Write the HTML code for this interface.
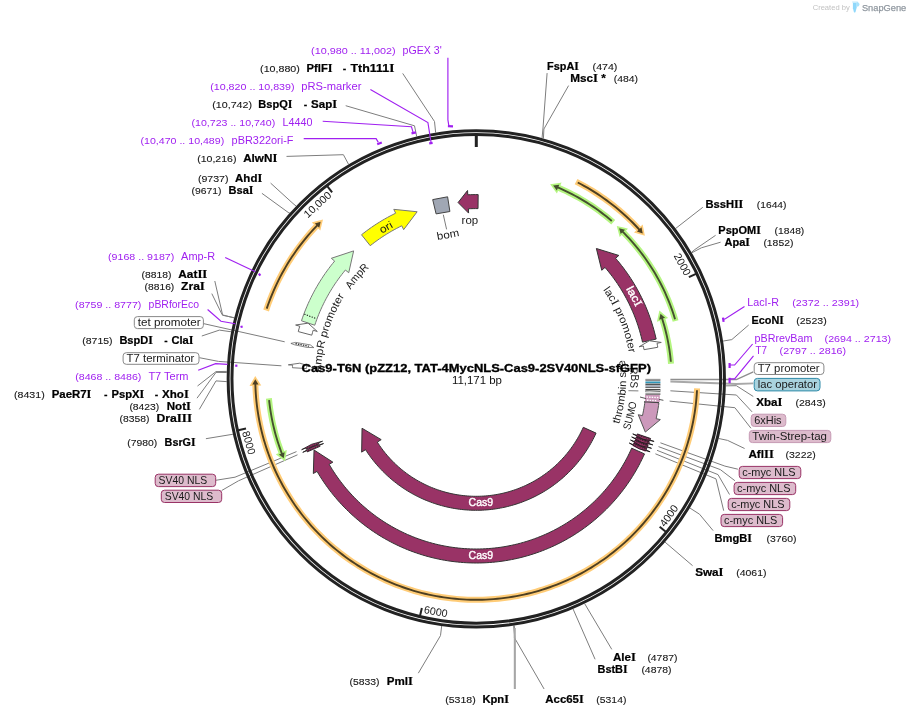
<!DOCTYPE html>
<html><head><meta charset="utf-8"><title>Cas9-T6N plasmid map</title>
<style>
html,body{margin:0;padding:0;background:#fff;}
svg{display:block;will-change:transform;}
text{font-family:"Liberation Sans",sans-serif;fill:#1a1a1a;}
.n{font-size:8.7px;fill:#161616;stroke:#161616;stroke-width:0.1px;}
.n2{font-size:10.4px;fill:#111;}
.pn{font-size:8.7px;fill:#a020f0;}
.p{font-size:10.8px;fill:#a020f0;}
.e{font-size:10.8px;font-weight:bold;fill:#000;stroke:#000;stroke-width:0.22px;}
.s{font-family:"Liberation Serif",serif;font-size:11.6px;}
.t{font-size:10.4px;font-weight:bold;fill:#000;stroke:#000;stroke-width:0.3px;}
.f{font-size:10.7px;fill:#1a1a1a;}
.fw{font-size:10.9px;fill:#fff;stroke:#fff;stroke-width:0.4px;}
</style></head><body>
<svg width="910" height="716" viewBox="0 0 910 716">
<polyline points="547.1,73.1 543,128 542.06,138.02" fill="none" stroke="#7d7d7d" stroke-width="1" />
<polyline points="568.6,85.6 543.9,129 543.41,138.39" fill="none" stroke="#7d7d7d" stroke-width="1" />
<polyline points="702.8,207.3 675.59,228.52" fill="none" stroke="#7d7d7d" stroke-width="1" />
<polyline points="715.6,235.3 694.9,249.5 691.48,252.32" fill="none" stroke="#7d7d7d" stroke-width="1" />
<polyline points="720.6,242.2 701.4,247.8 691.77,252.81" fill="none" stroke="#7d7d7d" stroke-width="1" />
<polyline points="748.7,325 731.8,339.6 723.03,341.08" fill="none" stroke="#7d7d7d" stroke-width="1" />
<polyline points="753.3,396.5 736.4,385.7 725.8,385.85" fill="none" stroke="#7d7d7d" stroke-width="1" />
<polyline points="744.6,448.5 727.6,440.4 718.66,438.48" fill="none" stroke="#7d7d7d" stroke-width="1" />
<polyline points="713.1,530.6 699.5,514.2 689.86,507.99" fill="none" stroke="#7d7d7d" stroke-width="1" />
<polyline points="692.6,565.7 665.04,542.13" fill="none" stroke="#7d7d7d" stroke-width="1" />
<polyline points="611.8,649.4 584.67,603.65" fill="none" stroke="#7d7d7d" stroke-width="1" />
<polyline points="595.1,659.3 573.02,608.9" fill="none" stroke="#7d7d7d" stroke-width="1" />
<polyline points="544.1,689 514.4,637.6 514.27,625.5" fill="none" stroke="#7d7d7d" stroke-width="1" />
<polyline points="514.8,689 514.8,637.6 513.71,625.58" fill="none" stroke="#7d7d7d" stroke-width="1" />
<polyline points="418.3,673.2 440.5,635.6 441.67,625.99" fill="none" stroke="#7d7d7d" stroke-width="1" />
<polyline points="205.9,438.7 232.94,434.24" fill="none" stroke="#7d7d7d" stroke-width="1" />
<polyline points="199.3,409.4 216,380.9 226.72,381.64" fill="none" stroke="#7d7d7d" stroke-width="1" />
<polyline points="197,398.2 216,372.4 226.78,372.52" fill="none" stroke="#7d7d7d" stroke-width="1" />
<polyline points="197.5,386 216,371.6 226.81,371.4" fill="none" stroke="#7d7d7d" stroke-width="1" />
<polyline points="201.8,336 219.4,330.1 231.16,331.81" fill="none" stroke="#7d7d7d" stroke-width="1" />
<polyline points="211.8,293.6 222.2,314.8 234.23,317.96" fill="none" stroke="#7d7d7d" stroke-width="1" />
<polyline points="214.8,281 222.7,315.3 234.3,317.69" fill="none" stroke="#7d7d7d" stroke-width="1" />
<polyline points="261.9,193.3 289,213 289.82,212.89" fill="none" stroke="#7d7d7d" stroke-width="1" />
<polyline points="270.6,183.1 293,203.5 296.11,206.08" fill="none" stroke="#7d7d7d" stroke-width="1" />
<polyline points="286.5,156.4 343.4,154.7 348.58,164.35" fill="none" stroke="#7d7d7d" stroke-width="1" />
<polyline points="345.7,105.7 414.5,125.8 416.66,136.43" fill="none" stroke="#7d7d7d" stroke-width="1" />
<polyline points="402.7,73.4 434.5,121.5 435.63,132.54" fill="none" stroke="#7d7d7d" stroke-width="1" />
<polyline points="514.8,689 514.8,628" fill="none" stroke="#a6a6a6" stroke-width="2" />
<polyline points="203.9,323.7 284.7,341.8" fill="none" stroke="#7d7d7d" stroke-width="1" />
<polyline points="199.4,357.7 218.5,361.4 281.4,365.8" fill="none" stroke="#7d7d7d" stroke-width="1" />
<polyline points="215.7,480.3 235,477.2 296.5,451.6" fill="none" stroke="#7d7d7d" stroke-width="1" />
<polyline points="221.7,490.5 238.5,480.8 297.5,454.8" fill="none" stroke="#7d7d7d" stroke-width="1" />
<polyline points="753.3,371.9 736.4,379.6 670.4,379.4" fill="none" stroke="#8e8e8e" stroke-width="1.5" />
<polyline points="753.3,383.4 736.4,384 670.4,381.5" fill="none" stroke="#a8a8a8" stroke-width="1.8" />
<polyline points="752.1,411.9 736.4,395 670.4,390.8" fill="none" stroke="#7d7d7d" stroke-width="1" />
<polyline points="751,428.3 734.9,407.7 669.6,401.1" fill="none" stroke="#7d7d7d" stroke-width="1" />
<polyline points="737.9,469.2 724.9,466.1 660.4,442.8" fill="none" stroke="#7d7d7d" stroke-width="1" />
<polyline points="734.9,480.7 720.3,469.6 658.5,446.6" fill="none" stroke="#7d7d7d" stroke-width="1" />
<polyline points="729.5,494.5 718,474.6 657,450.3" fill="none" stroke="#7d7d7d" stroke-width="1" />
<polyline points="723.7,510.7 716,478.9 655.4,453.8" fill="none" stroke="#7d7d7d" stroke-width="1" />
<polyline points="443.3,214.7 446.6,229.4" fill="none" stroke="#7d7d7d" stroke-width="1" />
<circle cx="476.3" cy="378.8" r="248.15" fill="none" stroke="#222" stroke-width="3"/>
<circle cx="476.3" cy="378.8" r="244.35" fill="none" stroke="#222" stroke-width="3"/>
<polyline points="476.3,135.3 476.3,147" fill="none" stroke="#222" stroke-width="3" />
<polyline points="695.99,273.79 688.87,277.2" fill="none" stroke="#222" stroke-width="2" />
<polyline points="665.79,531.73 659.64,526.76" fill="none" stroke="#222" stroke-width="2" />
<polyline points="420.04,615.71 421.87,608.03" fill="none" stroke="#222" stroke-width="2" />
<polyline points="238.29,430.21 246.01,428.55" fill="none" stroke="#222" stroke-width="2" />
<polyline points="327.27,186.23 332.1,192.48" fill="none" stroke="#222" stroke-width="2" />
<text class="f" text-anchor="middle" transform="translate(679.21,266.12) rotate(60.96)" x="0" y="0" textLength="23.8" lengthAdjust="spacingAndGlyphs" >2000</text>
<text class="f" text-anchor="middle" transform="translate(671.83,517.8) rotate(-54.59)" x="0" y="0" textLength="23.8" lengthAdjust="spacingAndGlyphs" >4000</text>
<text class="f" text-anchor="middle" transform="translate(435.21,615.16) rotate(9.86)" x="0" y="0" textLength="23.8" lengthAdjust="spacingAndGlyphs" >6000</text>
<text class="f" text-anchor="middle" transform="translate(245.33,443.66) rotate(74.31)" x="0" y="0" textLength="23.8" lengthAdjust="spacingAndGlyphs" >8000</text>
<text class="f" text-anchor="middle" transform="translate(319.94,207.27) rotate(-42.35)" x="0" y="0" textLength="33" lengthAdjust="spacingAndGlyphs" >10,000</text>
<polyline points="447.9,57.7 447.9,119.9 448.8,125.3" fill="none" stroke="#a020f0" stroke-width="1.15" />
<polyline points="447.9,126.2 453,126.4" fill="none" stroke="#a020f0" stroke-width="2.2" />
<polyline points="370.4,89.6 427.9,122.5 431,142.2" fill="none" stroke="#a020f0" stroke-width="1.15" />
<polyline points="429.2,143.4 432.6,142.9" fill="none" stroke="#a020f0" stroke-width="2.2" />
<polyline points="322.7,121.3 411.5,126.8 413,132.2" fill="none" stroke="#a020f0" stroke-width="1.15" />
<polyline points="411.5,133.4 416,132.4" fill="none" stroke="#a020f0" stroke-width="2.2" />
<polyline points="303.7,138.6 376.1,138.6 378.3,142.4" fill="none" stroke="#a020f0" stroke-width="1.15" />
<polyline points="377.2,144.3 381.8,142.5" fill="none" stroke="#a020f0" stroke-width="2.2" />
<polyline points="225.2,257.5 255.4,271.8" fill="none" stroke="#a020f0" stroke-width="1.15" />
<polyline points="258.9,273.6 260.3,275.6" fill="none" stroke="#a020f0" stroke-width="2.2" />
<polyline points="207.6,309.5 221,321.2 235.3,323.7" fill="none" stroke="#a020f0" stroke-width="1.15" />
<polyline points="241.3,325.8 241.9,327.8" fill="none" stroke="#a020f0" stroke-width="2.2" />
<polyline points="198.2,370.3 215.6,363.6 227.5,364.4" fill="none" stroke="#a020f0" stroke-width="1.15" />
<polyline points="236.3,364.6 236.3,366.8" fill="none" stroke="#a020f0" stroke-width="2.2" />
<polyline points="744.5,306.6 725.4,318.8 723.2,319.4" fill="none" stroke="#a020f0" stroke-width="1.15" />
<polyline points="723,317.6 723.6,321.8" fill="none" stroke="#a020f0" stroke-width="2.2" />
<polyline points="752.6,344 734.6,365 729.8,365" fill="none" stroke="#a020f0" stroke-width="1.15" />
<polyline points="729.6,363 729.6,368" fill="none" stroke="#a020f0" stroke-width="2.2" />
<polyline points="753.5,355.8 734.6,378.8 729.8,378.8" fill="none" stroke="#a020f0" stroke-width="1.15" />
<polyline points="729.6,377.8 729.6,383.2" fill="none" stroke="#a020f0" stroke-width="2.2" />
<path d="M576.07,181.6 L579.36,183.3 L582.62,185.06 L585.85,186.86 L589.05,188.72 L592.22,190.64 L595.35,192.61 L598.45,194.63 L601.52,196.7 L604.55,198.82 L607.55,200.99 L610.51,203.22 L613.43,205.49 L616.31,207.81 L619.16,210.18 L621.96,212.6 L624.72,215.06 L627.45,217.57 L630.12,220.12 L632.76,222.72 L635.35,225.36 L637.9,228.05 L640.4,230.77" fill="none" stroke="#ffcc77" stroke-width="6" stroke-linecap="butt"/>
<path d="M641.84,227.01 L643.18,233.92 L636.54,231.87 Z" fill="#ffcc77" stroke="#ffcc77" stroke-width="2.6" stroke-linejoin="miter"/>
<path d="M577.76,182.47 L581.11,184.24 L584.43,186.06 L587.72,187.94 L590.97,189.88 L594.19,191.87 L597.38,193.92 L600.53,196.02 L603.64,198.18 L606.72,200.39 L609.76,202.65 L612.76,204.96 L615.71,207.32 L618.63,209.74 L621.51,212.2 L624.34,214.71 L627.13,217.27 L629.88,219.88 L632.58,222.54 L635.23,225.24 L637.84,227.98 L640.4,230.77" fill="none" stroke="#4d3f22" stroke-width="1.9"/>
<path d="M641.47,227.35 L642.71,233.38 L636.91,231.54 Z" fill="#4d3f22"/>
<path d="M697.09,388.39 L696.89,392.23 L696.62,396.07 L696.29,399.9 L695.89,403.73 L695.42,407.55 L694.89,411.35 L694.29,415.15 L693.62,418.94 L692.89,422.72 L692.09,426.48 L691.23,430.23 L690.3,433.96 L689.31,437.68 L688.26,441.38 L687.13,445.06 L685.95,448.72 L684.7,452.35 L683.39,455.97 L682.01,459.56 L680.58,463.13 L679.08,466.67 L677.52,470.19 L675.9,473.68 L674.22,477.14 L672.47,480.57 L670.67,483.97 L668.81,487.33 L666.9,490.67 L664.92,493.97 L662.89,497.23 L660.8,500.46 L658.65,503.65 L656.45,506.81 L654.2,509.93 L651.89,513 L649.53,516.04 L647.11,519.03 L644.64,521.98 L642.13,524.89 L639.56,527.75 L636.94,530.57 L634.28,533.35 L631.56,536.07 L628.8,538.75 L625.99,541.38 L623.14,543.96 L620.25,546.49 L617.31,548.97 L614.32,551.4 L611.3,553.78 L608.23,556.1 L605.13,558.37 L601.98,560.58 L598.8,562.74 L595.58,564.85 L592.32,566.9 L589.03,568.89 L585.71,570.82 L582.35,572.69 L578.96,574.51 L575.53,576.27 L572.08,577.96 L568.6,579.6 L565.09,581.18 L561.56,582.69 L558,584.15 L554.41,585.54 L550.8,586.86 L547.17,588.13 L543.51,589.33 L539.84,590.47 L536.15,591.54 L532.43,592.55 L528.71,593.5 L524.96,594.38 L521.2,595.19 L517.43,595.94 L513.64,596.62 L509.85,597.24 L506.04,597.79 L502.22,598.27 L498.4,598.69 L494.57,599.04 L490.73,599.33 L486.89,599.55 L483.05,599.7 L479.2,599.78 L475.36,599.8 L471.51,599.75 L467.67,599.63 L463.83,599.45 L459.99,599.2 L456.15,598.88 L452.33,598.5 L448.51,598.05 L444.69,597.53 L440.89,596.95 L437.1,596.3 L433.32,595.58 L429.56,594.8 L425.8,593.95 L422.07,593.04 L418.35,592.07 L414.64,591.02 L410.96,589.92 L407.29,588.75 L403.65,587.52 L400.03,586.22 L396.43,584.86 L392.86,583.44 L389.31,581.96 L385.79,580.41 L382.29,578.81 L378.82,577.14 L375.39,575.41 L371.98,573.63 L368.6,571.78 L365.26,569.88 L361.95,567.92 L358.68,565.9 L355.44,563.82 L352.24,561.69 L349.07,559.51 L345.95,557.26 L342.86,554.97 L339.82,552.62 L336.81,550.22 L333.85,547.76 L330.93,545.26 L328.06,542.7 L325.23,540.1 L322.44,537.45 L319.7,534.74 L317.01,531.99 L314.37,529.2 L311.78,526.36 L309.23,523.47 L306.74,520.54 L304.3,517.57 L301.91,514.56 L299.58,511.5 L297.29,508.4 L295.06,505.27 L292.89,502.1 L290.77,498.88 L288.71,495.64 L286.71,492.36 L284.76,489.04 L282.87,485.69 L281.04,482.31 L279.27,478.89 L277.55,475.45 L275.9,471.97 L274.31,468.47 L272.78,464.94 L271.31,461.39 L269.9,457.81 L268.56,454.2 L267.28,450.58 L266.06,446.93 L264.91,443.26 L263.82,439.57 L262.79,435.86 L261.83,432.14 L260.94,428.4 L260.11,424.64 L259.34,420.87 L258.64,417.09 L258.01,413.29 L257.44,409.49 L256.94,405.68 L256.51,401.85 L256.14,398.03 L255.84,394.19 L255.6,390.35 L255.43,386.51 L255.33,382.66" fill="none" stroke="#ffcc77" stroke-width="6" stroke-linecap="butt"/>
<path d="M251.77,384.56 L255.3,378.46 L258.97,384.37 Z" fill="#ffcc77" stroke="#ffcc77" stroke-width="2.6" stroke-linejoin="miter"/>
<path d="M697,390.29 L696.77,394.12 L696.47,397.94 L696.1,401.76 L695.67,405.57 L695.17,409.37 L694.61,413.17 L693.98,416.95 L693.29,420.73 L692.53,424.48 L691.7,428.23 L690.81,431.96 L689.86,435.68 L688.84,439.37 L687.75,443.05 L686.61,446.71 L685.4,450.35 L684.12,453.97 L682.79,457.57 L681.39,461.14 L679.93,464.69 L678.41,468.21 L676.82,471.7 L675.18,475.17 L673.48,478.61 L671.72,482.01 L669.9,485.39 L668.02,488.73 L666.08,492.04 L664.09,495.32 L662.04,498.56 L659.93,501.77 L657.77,504.94 L655.55,508.07 L653.28,511.16 L650.96,514.21 L648.58,517.22 L646.15,520.19 L643.67,523.12 L641.14,526 L638.56,528.84 L635.94,531.63 L633.26,534.38 L630.54,537.08 L627.76,539.73 L624.95,542.34 L622.09,544.89 L619.18,547.4 L616.24,549.85 L613.25,552.26 L610.22,554.61 L607.14,556.9 L604.03,559.15 L600.88,561.34 L597.7,563.47 L594.47,565.55 L591.21,567.57 L587.92,569.54 L584.59,571.45 L581.23,573.3 L577.84,575.09 L574.42,576.82 L570.97,578.5 L567.49,580.11 L563.98,581.66 L560.45,583.15 L556.89,584.58 L553.3,585.95 L549.7,587.26 L546.07,588.5 L542.42,589.68 L538.75,590.79 L535.06,591.85 L531.35,592.83 L527.63,593.76 L523.89,594.61 L520.14,595.41 L516.37,596.14 L512.6,596.8 L508.81,597.4 L505.01,597.93 L501.2,598.39 L497.39,598.79 L493.56,599.12 L489.74,599.39 L485.91,599.59 L482.07,599.72 L478.24,599.79 L474.4,599.79 L470.57,599.73 L466.73,599.59 L462.9,599.39 L459.08,599.13 L455.26,598.8 L451.44,598.4 L447.63,597.93 L443.83,597.4 L440.05,596.81 L436.27,596.14 L432.5,595.42 L428.75,594.62 L425.01,593.77 L421.29,592.84 L417.58,591.86 L413.89,590.81 L410.22,589.69 L406.57,588.51 L402.94,587.27 L399.33,585.96 L395.75,584.6 L392.19,583.17 L388.66,581.68 L385.15,580.13 L381.67,578.51 L378.22,576.84 L374.79,575.11 L371.4,573.32 L368.04,571.47 L364.71,569.56 L361.42,567.6 L358.16,565.57 L354.94,563.49 L351.75,561.36 L348.6,559.17 L345.49,556.93 L342.42,554.63 L339.39,552.28 L336.4,549.88 L333.45,547.42 L330.54,544.92 L327.68,542.37 L324.87,539.76 L322.09,537.11 L319.37,534.41 L316.69,531.66 L314.06,528.87 L311.48,526.03 L308.95,523.15 L306.47,520.22 L304.04,517.25 L301.67,514.24 L299.34,511.19 L297.07,508.1 L294.86,504.97 L292.69,501.8 L290.59,498.6 L288.53,495.36 L286.54,492.08 L284.6,488.77 L282.72,485.42 L280.9,482.05 L279.14,478.64 L277.44,475.21 L275.79,471.74 L274.21,468.25 L272.69,464.72 L271.23,461.18 L269.83,457.61 L268.49,454.01 L267.22,450.39 L266.01,446.75 L264.86,443.09 L263.77,439.41 L262.75,435.72 L261.8,432 L260.91,428.27 L260.08,424.53 L259.32,420.77 L258.63,416.99 L258,413.21 L257.43,409.42 L256.93,405.61 L256.5,401.8 L256.13,397.98 L255.83,394.16 L255.6,390.33 L255.43,386.5 L255.33,382.66" fill="none" stroke="#4d3f22" stroke-width="1.9"/>
<path d="M252.27,384.54 L255.3,379.18 L258.47,384.38 Z" fill="#4d3f22"/>
<path d="M266.13,310.48 L267.32,306.91 L268.57,303.36 L269.89,299.84 L271.26,296.33 L272.7,292.86 L274.19,289.4 L275.74,285.97 L277.35,282.57 L279.02,279.2 L280.74,275.85 L282.52,272.54 L284.36,269.26 L286.25,266 L288.2,262.78 L290.2,259.6 L292.26,256.45 L294.37,253.33 L296.53,250.25 L298.75,247.21 L301.01,244.21 L303.33,241.24 L305.7,238.32 L308.11,235.43 L310.58,232.59 L313.09,229.79 L315.65,227.03 L318.26,224.32" fill="none" stroke="#ffcc77" stroke-width="6" stroke-linecap="butt"/>
<path d="M314.41,223.11 L321.23,221.34 L319.6,228.11 Z" fill="#ffcc77" stroke="#ffcc77" stroke-width="2.6" stroke-linejoin="miter"/>
<path d="M266.72,308.68 L267.97,305.05 L269.28,301.45 L270.65,297.87 L272.09,294.31 L273.58,290.78 L275.14,287.28 L276.76,283.8 L278.44,280.35 L280.18,276.93 L281.97,273.55 L283.83,270.19 L285.74,266.87 L287.71,263.58 L289.74,260.32 L291.82,257.1 L293.96,253.92 L296.16,250.78 L298.41,247.67 L300.71,244.6 L303.06,241.58 L305.47,238.59 L307.93,235.65 L310.44,232.75 L313,229.89 L315.61,227.08 L318.26,224.32" fill="none" stroke="#4d3f22" stroke-width="1.9"/>
<path d="M314.77,223.46 L320.71,221.85 L319.24,227.76 Z" fill="#4d3f22"/>
<path d="M613.23,222.23 L610.55,219.93 L607.83,217.66 L605.06,215.45 L602.27,213.28 L599.43,211.16 L596.56,209.09 L593.65,207.07 L590.71,205.09 L587.74,203.17 L584.73,201.3 L581.7,199.48 L578.63,197.71 L575.53,196 L572.41,194.33 L569.25,192.72 L566.07,191.17 L562.86,189.67 L559.63,188.22 L556.38,186.83" fill="none" stroke="#b4f580" stroke-width="6" stroke-linecap="butt"/>
<path d="M559.45,184.22 L552.48,185.25 L556.62,190.84 Z" fill="#b4f580" stroke="#b4f580" stroke-width="2.6" stroke-linejoin="miter"/>
<path d="M611.8,220.99 L609.17,218.77 L606.5,216.59 L603.8,214.46 L601.07,212.38 L598.3,210.34 L595.5,208.34 L592.66,206.39 L589.79,204.49 L586.89,202.64 L583.96,200.83 L581.01,199.08 L578.02,197.37 L575,195.71 L571.96,194.1 L568.89,192.55 L565.8,191.04 L562.68,189.59 L559.54,188.18 L556.38,186.83" fill="none" stroke="#45502f" stroke-width="1.9"/>
<path d="M559.25,184.68 L553.15,185.52 L556.82,190.38 Z" fill="#45502f"/>
<path d="M675.59,321 L674.57,317.6 L673.49,314.22 L672.36,310.86 L671.17,307.52 L669.92,304.2 L668.62,300.9 L667.26,297.62 L665.85,294.37 L664.38,291.14 L662.85,287.94 L661.27,284.77 L659.64,281.62 L657.95,278.5 L656.21,275.41 L654.41,272.35 L652.57,269.32 L650.67,266.33 L648.72,263.36 L646.73,260.43 L644.68,257.54 L642.58,254.68 L640.44,251.85 L638.24,249.07 L636,246.32 L633.71,243.61 L631.38,240.94 L629,238.31 L626.58,235.72 L624.11,233.17 L621.6,230.66" fill="none" stroke="#b4f580" stroke-width="6" stroke-linecap="butt"/>
<path d="M625.42,229.38 L618.57,227.75 L620.34,234.48 Z" fill="#b4f580" stroke="#b4f580" stroke-width="2.6" stroke-linejoin="miter"/>
<path d="M675.05,319.17 L673.98,315.73 L672.86,312.31 L671.67,308.9 L670.43,305.52 L669.13,302.16 L667.77,298.83 L666.35,295.51 L664.88,292.23 L663.34,288.96 L661.76,285.73 L660.11,282.52 L658.41,279.35 L656.66,276.2 L654.85,273.08 L652.99,270 L651.07,266.95 L649.1,263.93 L647.08,260.95 L645.01,258 L642.89,255.09 L640.71,252.21 L638.49,249.38 L636.22,246.58 L633.9,243.82 L631.53,241.11 L629.12,238.43 L626.66,235.8 L624.15,233.21 L621.6,230.66" fill="none" stroke="#45502f" stroke-width="1.9"/>
<path d="M625.07,229.74 L619.1,228.25 L620.69,234.12 Z" fill="#45502f"/>
<path d="M268.92,398.32 L269.27,401.74 L269.67,405.16 L270.14,408.57 L270.66,411.96 L271.23,415.36 L271.86,418.74 L272.55,422.11 L273.29,425.46 L274.09,428.81 L274.95,432.14 L275.85,435.46 L276.82,438.76 L277.83,442.05 L278.9,445.31 L280.03,448.56 L281.21,451.79 L282.44,455.01" fill="none" stroke="#b4f580" stroke-width="6" stroke-linecap="butt"/>
<path d="M278.43,454.62 L284.02,458.9 L285.15,452.04 Z" fill="#b4f580" stroke="#b4f580" stroke-width="2.6" stroke-linejoin="miter"/>
<path d="M269.1,400.21 L269.5,403.73 L269.95,407.23 L270.46,410.73 L271.03,414.22 L271.66,417.7 L272.35,421.16 L273.1,424.62 L273.91,428.06 L274.77,431.49 L275.7,434.9 L276.68,438.3 L277.72,441.68 L278.81,445.04 L279.97,448.38 L281.17,451.7 L282.44,455.01" fill="none" stroke="#45502f" stroke-width="1.9"/>
<path d="M278.89,454.44 L283.74,458.23 L284.68,452.22 Z" fill="#45502f"/>
<path d="M671.01,363.67 L670.74,360.5 L670.42,357.33 L670.04,354.17 L669.61,351.01 L669.13,347.86 L668.6,344.72 L668.02,341.59 L667.39,338.47 L666.71,335.36 L665.97,332.26 L665.19,329.18 L664.36,326.1 L663.47,323.04 L662.54,320 L661.55,316.97" fill="none" stroke="#b4f580" stroke-width="6" stroke-linecap="butt"/>
<path d="M665.54,317.57 L660.18,313 L658.69,319.79 Z" fill="#b4f580" stroke="#b4f580" stroke-width="2.6" stroke-linejoin="miter"/>
<path d="M670.86,361.78 L670.54,358.52 L670.18,355.26 L669.75,352.01 L669.28,348.77 L668.75,345.54 L668.16,342.31 L667.52,339.1 L666.83,335.9 L666.08,332.71 L665.28,329.53 L664.43,326.37 L663.52,323.22 L662.57,320.09 L661.55,316.97" fill="none" stroke="#45502f" stroke-width="1.9"/>
<path d="M665.07,317.72 L660.42,313.68 L659.17,319.63 Z" fill="#45502f"/>
<path d="M478.16,194.61 L475.56,194.6 L472.96,194.63 L470.35,194.7 L467.75,194.8 L467.55,190.5 L458.09,202.54 L468.6,213.08 L468.4,208.78 L470.81,208.69 L473.21,208.63 L475.62,208.6 L478.02,208.61 Z" fill="#993366" stroke="#333" stroke-width="1" stroke-linejoin="miter" />
<path d="M432.7,199.6 L447.6,196.8 L449.9,211.5 L436.1,213.9 Z" fill="#a0a7b4" stroke="#444" stroke-width="1"/>
<path d="M361.51,234.74 L363.96,232.83 L366.44,230.95 L368.95,229.11 L371.5,227.32 L374.07,225.57 L376.67,223.87 L379.3,222.21 L381.96,220.59 L384.65,219.02 L387.36,217.49 L390.1,216.01 L392.86,214.58 L395.65,213.2 L393.77,209.33 L417.15,211.76 L403.66,229.65 L401.78,225.78 L399.2,227.06 L396.65,228.39 L394.12,229.75 L391.62,231.16 L389.13,232.61 L386.68,234.11 L384.25,235.64 L381.84,237.22 L379.46,238.83 L377.11,240.49 L374.79,242.19 L372.5,243.92 L370.23,245.69 Z" fill="#ffff00" stroke="#777" stroke-width="1" stroke-linejoin="miter" />
<path d="M301.47,320.81 L302.48,317.85 L303.53,314.91 L304.64,311.99 L305.8,309.09 L307.01,306.21 L308.26,303.35 L309.57,300.51 L310.92,297.69 L312.32,294.9 L313.77,292.13 L315.26,289.38 L316.8,286.66 L318.39,283.97 L320.02,281.3 L321.69,278.67 L323.41,276.06 L325.18,273.48 L326.99,270.93 L328.84,268.42 L330.73,265.93 L332.67,263.48 L334.64,261.06 L331.34,258.31 L353.65,250.9 L348.72,272.75 L345.41,270.01 L343.58,272.24 L341.8,274.51 L340.05,276.81 L338.34,279.13 L336.66,281.49 L335.03,283.87 L333.44,286.28 L331.9,288.71 L330.39,291.18 L328.92,293.67 L327.5,296.18 L326.12,298.71 L324.78,301.27 L323.49,303.85 L322.24,306.46 L321.03,309.08 L319.87,311.72 L318.76,314.39 L317.69,317.07 L316.67,319.77 L315.69,322.48 L314.75,325.22 Z" fill="#ccffcc" stroke="#777" stroke-width="1" stroke-linejoin="miter" />
<polyline points="304.35,314.17 316.51,318.74" fill="none" stroke="#111" stroke-width="1.1" stroke-dasharray="1.2,1.4"/>
<path d="M298.25,331.59 L298.98,328.92 L299.75,326.25 L295.63,325.03 L308.06,323.16 L317.29,331.47 L313.17,330.25 L312.46,332.71 L311.78,335.18 Z" fill="#fff" stroke="#666" stroke-width="1" stroke-linejoin="miter" />
<path d="M290.9,343.4 L295.6,342.4 L310.3,344.9 L313.8,347.6 L307,347.4 L294.6,344.8 Z" fill="#fff" stroke="#555" stroke-width="0.7"/>
<polyline points="295.5,343.6 309,346.3" fill="none" stroke="#222" stroke-width="1.1" stroke-dasharray="1.4,1.1"/>
<path d="M292.43,367.72 L292.52,366.43 L292.61,365.15 L288.32,364.83 L299.79,363.2 L310.86,366.51 L306.57,366.19 L306.48,367.37 L306.41,368.56 Z" fill="#fff" stroke="#666" stroke-width="0.9" stroke-linejoin="miter" />
<path d="M656.17,339.09 L655.46,336.02 L654.7,332.96 L653.89,329.91 L653.03,326.88 L652.12,323.87 L651.15,320.87 L650.14,317.89 L649.07,314.92 L647.95,311.98 L646.78,309.05 L645.57,306.14 L644.3,303.26 L642.98,300.4 L641.62,297.56 L640.2,294.74 L638.74,291.95 L637.23,289.18 L635.67,286.44 L634.07,283.73 L632.42,281.05 L630.73,278.39 L628.99,275.76 L627.2,273.17 L625.37,270.6 L623.5,268.07 L621.58,265.57 L619.63,263.1 L617.63,260.66 L615.58,258.26 L618.84,255.45 L596.38,248.49 L601.75,270.24 L605,267.42 L606.88,269.64 L608.73,271.89 L610.54,274.17 L612.31,276.48 L614.04,278.82 L615.73,281.2 L617.38,283.59 L618.99,286.02 L620.56,288.48 L622.08,290.96 L623.56,293.46 L625,295.99 L626.39,298.55 L627.74,301.13 L629.05,303.73 L630.31,306.36 L631.53,309 L632.7,311.67 L633.83,314.35 L634.91,317.05 L635.94,319.78 L636.92,322.52 L637.86,325.27 L638.76,328.04 L639.6,330.83 L640.4,333.63 L641.15,336.44 L641.85,339.27 L642.5,342.11 Z" fill="#993366" stroke="#333" stroke-width="1" stroke-linejoin="miter" />
<path d="M657.78,347.29 L657.42,345.27 L657.04,343.26 L661.26,342.43 L649.37,340.75 L639.08,346.79 L643.3,345.96 L643.66,347.82 L643.99,349.68 Z" fill="#fff" stroke="#666" stroke-width="1" stroke-linejoin="miter" />
<path d="M644.5,453.9 L643.16,456.82 L641.78,459.71 L640.34,462.58 L638.86,465.43 L637.33,468.25 L635.74,471.04 L634.11,473.8 L632.43,476.54 L630.71,479.24 L628.93,481.92 L627.11,484.56 L625.25,487.17 L623.34,489.75 L621.38,492.29 L619.38,494.8 L617.34,497.28 L615.26,499.72 L613.13,502.12 L610.96,504.48 L608.75,506.81 L606.5,509.1 L604.21,511.35 L601.88,513.56 L599.51,515.72 L597.11,517.85 L594.67,519.93 L592.19,521.97 L589.68,523.97 L587.13,525.92 L584.55,527.83 L581.94,529.7 L579.3,531.51 L576.62,533.28 L573.91,535.01 L571.18,536.69 L568.41,538.31 L565.62,539.89 L562.8,541.43 L559.95,542.91 L557.08,544.34 L554.19,545.72 L551.27,547.05 L548.32,548.34 L545.36,549.56 L542.37,550.74 L539.37,551.87 L536.34,552.94 L533.3,553.96 L530.24,554.92 L527.17,555.84 L524.07,556.7 L520.97,557.5 L517.85,558.25 L514.71,558.95 L511.57,559.59 L508.42,560.18 L505.25,560.71 L502.08,561.19 L498.9,561.61 L495.71,561.97 L492.51,562.29 L489.31,562.54 L486.11,562.74 L482.91,562.88 L479.7,562.97 L476.49,563 L473.28,562.98 L470.07,562.89 L466.87,562.76 L463.66,562.57 L460.46,562.32 L457.27,562.01 L454.08,561.65 L450.9,561.24 L447.72,560.77 L444.56,560.24 L441.4,559.66 L438.26,559.03 L435.12,558.34 L432,557.59 L428.89,556.79 L425.8,555.94 L422.72,555.04 L419.66,554.07 L416.61,553.06 L413.59,552 L410.58,550.88 L407.59,549.71 L404.62,548.48 L401.68,547.21 L398.76,545.88 L395.86,544.51 L392.98,543.08 L390.13,541.6 L387.31,540.08 L384.51,538.5 L381.75,536.88 L379.01,535.21 L376.3,533.49 L373.62,531.72 L370.97,529.91 L368.35,528.05 L365.77,526.15 L363.22,524.2 L360.7,522.21 L358.22,520.18 L355.78,518.1 L353.37,515.98 L351,513.81 L348.66,511.61 L346.37,509.37 L344.11,507.08 L341.9,504.76 L339.73,502.4 L337.59,500 L335.5,497.57 L333.45,495.1 L331.45,492.59 L329.49,490.05 L327.57,487.48 L325.7,484.87 L323.88,482.23 L322.1,479.56 L320.37,476.86 L318.68,474.12 L317.05,471.36 L313.33,473.52 L314.04,450.03 L332.87,462.17 L329.15,464.33 L330.66,466.88 L332.22,469.4 L333.82,471.9 L335.46,474.37 L337.15,476.81 L338.88,479.22 L340.65,481.59 L342.46,483.94 L344.31,486.26 L346.2,488.54 L348.14,490.79 L350.11,493.01 L352.11,495.19 L354.16,497.33 L356.24,499.44 L358.36,501.52 L360.52,503.55 L362.71,505.55 L364.94,507.51 L367.2,509.43 L369.49,511.31 L371.81,513.15 L374.17,514.95 L376.56,516.71 L378.97,518.43 L381.42,520.1 L383.9,521.73 L386.4,523.32 L388.93,524.86 L391.49,526.36 L394.07,527.82 L396.68,529.23 L399.32,530.59 L401.97,531.91 L404.65,533.18 L407.35,534.41 L410.07,535.59 L412.81,536.72 L415.57,537.8 L418.35,538.83 L421.15,539.82 L423.96,540.75 L426.79,541.64 L429.64,542.48 L432.5,543.27 L435.37,544 L438.25,544.69 L441.15,545.33 L444.05,545.92 L446.97,546.45 L449.89,546.94 L452.83,547.37 L455.77,547.76 L458.71,548.09 L461.67,548.37 L464.62,548.6 L467.58,548.78 L470.55,548.9 L473.51,548.98 L476.47,549 L479.44,548.97 L482.4,548.89 L485.37,548.76 L488.33,548.57 L491.28,548.34 L494.23,548.05 L497.18,547.71 L500.12,547.33 L503.05,546.88 L505.97,546.39 L508.89,545.85 L511.79,545.26 L514.69,544.61 L517.57,543.92 L520.44,543.18 L523.3,542.38 L526.14,541.54 L528.97,540.65 L531.78,539.7 L534.58,538.71 L537.35,537.67 L540.11,536.59 L542.85,535.45 L545.57,534.27 L548.27,533.04 L550.94,531.76 L553.6,530.44 L556.23,529.07 L558.83,527.65 L561.41,526.19 L563.97,524.69 L566.5,523.14 L569,521.54 L571.47,519.91 L573.91,518.23 L576.33,516.51 L578.71,514.74 L581.06,512.94 L583.38,511.09 L585.67,509.21 L587.93,507.28 L590.15,505.32 L592.34,503.31 L594.49,501.27 L596.6,499.2 L598.68,497.08 L600.72,494.93 L602.73,492.75 L604.69,490.53 L606.62,488.27 L608.51,485.99 L610.36,483.67 L612.16,481.32 L613.93,478.93 L615.65,476.52 L617.33,474.08 L618.97,471.61 L620.57,469.11 L622.12,466.58 L623.62,464.03 L625.09,461.45 L626.5,458.84 L627.88,456.21 L629.2,453.56 L630.48,450.89 L631.71,448.19 Z" fill="#993366" stroke="#333" stroke-width="1" stroke-linejoin="miter" />
<path d="M596.05,433.12 L595.09,435.2 L594.09,437.27 L593.05,439.32 L591.97,441.34 L590.86,443.35 L589.72,445.34 L588.54,447.31 L587.33,449.26 L586.08,451.19 L584.8,453.09 L583.49,454.97 L582.14,456.83 L580.77,458.67 L579.36,460.48 L577.92,462.27 L576.44,464.03 L574.94,465.76 L573.41,467.47 L571.85,469.15 L570.25,470.8 L568.63,472.43 L566.99,474.03 L565.31,475.6 L563.61,477.13 L561.88,478.64 L560.12,480.12 L558.34,481.57 L556.54,482.98 L554.71,484.37 L552.85,485.72 L550.97,487.04 L549.07,488.33 L547.15,489.58 L545.21,490.8 L543.24,491.99 L541.26,493.14 L539.25,494.25 L537.23,495.33 L535.18,496.38 L533.12,497.39 L531.04,498.36 L528.95,499.3 L526.84,500.2 L524.71,501.06 L522.57,501.89 L520.42,502.68 L518.25,503.43 L516.07,504.14 L513.87,504.82 L511.67,505.45 L509.45,506.05 L507.23,506.61 L504.99,507.13 L502.75,507.61 L500.49,508.06 L498.23,508.46 L495.97,508.82 L493.7,509.14 L491.42,509.43 L489.14,509.67 L486.85,509.88 L484.56,510.04 L482.27,510.16 L479.98,510.25 L477.68,510.29 L475.39,510.3 L473.09,510.26 L470.8,510.18 L468.51,510.07 L466.22,509.91 L463.93,509.72 L461.65,509.48 L459.37,509.21 L457.1,508.89 L454.83,508.54 L452.57,508.14 L450.31,507.71 L448.07,507.23 L445.83,506.72 L443.6,506.17 L441.39,505.58 L439.18,504.95 L436.98,504.28 L434.8,503.58 L432.63,502.84 L430.47,502.05 L428.32,501.24 L426.2,500.38 L424.08,499.49 L421.98,498.56 L419.9,497.59 L417.84,496.59 L415.79,495.55 L413.76,494.48 L411.75,493.37 L409.76,492.22 L407.79,491.05 L405.85,489.83 L403.92,488.59 L402.01,487.31 L400.13,485.99 L398.27,484.65 L396.44,483.27 L394.63,481.86 L392.84,480.42 L391.08,478.95 L389.34,477.45 L387.64,475.91 L385.95,474.35 L384.3,472.76 L382.67,471.14 L381.08,469.49 L379.51,467.82 L377.97,466.11 L376.46,464.38 L374.98,462.63 L373.54,460.85 L372.12,459.04 L370.73,457.21 L369.38,455.36 L368.06,453.48 L366.78,451.58 L365.52,449.66 L361.65,452.13 L362.04,428.24 L381.19,439.63 L377.32,442.11 L378.44,443.83 L379.59,445.53 L380.77,447.21 L381.97,448.86 L383.21,450.5 L384.48,452.11 L385.77,453.7 L387.09,455.27 L388.44,456.82 L389.81,458.34 L391.22,459.84 L392.64,461.31 L394.09,462.76 L395.57,464.18 L397.07,465.57 L398.6,466.94 L400.15,468.29 L401.72,469.6 L403.32,470.89 L404.94,472.15 L406.58,473.38 L408.24,474.58 L409.92,475.75 L411.62,476.9 L413.35,478.01 L415.09,479.1 L416.85,480.15 L418.62,481.17 L420.42,482.16 L422.23,483.12 L424.06,484.05 L425.91,484.94 L427.77,485.81 L429.64,486.64 L431.53,487.44 L433.43,488.2 L435.35,488.93 L437.28,489.63 L439.22,490.29 L441.17,490.92 L443.13,491.52 L445.1,492.08 L447.08,492.61 L449.07,493.1 L451.07,493.56 L453.08,493.98 L455.09,494.37 L457.11,494.72 L459.14,495.04 L461.17,495.32 L463.21,495.57 L465.25,495.78 L467.29,495.95 L469.34,496.09 L471.38,496.2 L473.43,496.27 L475.48,496.3 L477.53,496.29 L479.59,496.25 L481.63,496.18 L483.68,496.07 L485.73,495.92 L487.77,495.74 L489.81,495.52 L491.84,495.27 L493.87,494.98 L495.9,494.65 L497.92,494.29 L499.93,493.9 L501.94,493.47 L503.93,493 L505.92,492.5 L507.9,491.97 L509.87,491.4 L511.83,490.8 L513.78,490.16 L515.72,489.49 L517.64,488.79 L519.56,488.05 L521.46,487.28 L523.34,486.47 L525.22,485.63 L527.07,484.76 L528.91,483.86 L530.74,482.93 L532.55,481.96 L534.34,480.96 L536.11,479.94 L537.87,478.88 L539.61,477.79 L541.33,476.67 L543.02,475.52 L544.7,474.34 L546.36,473.13 L547.99,471.89 L549.61,470.63 L551.2,469.33 L552.77,468.01 L554.31,466.67 L555.83,465.29 L557.33,463.89 L558.8,462.46 L560.25,461.01 L561.67,459.53 L563.07,458.03 L564.44,456.5 L565.78,454.95 L567.1,453.38 L568.38,451.78 L569.64,450.17 L570.88,448.53 L572.08,446.86 L573.25,445.18 L574.39,443.48 L575.51,441.76 L576.59,440.02 L577.65,438.26 L578.67,436.48 L579.66,434.69 L580.62,432.87 L581.55,431.04 L582.44,429.2 L583.31,427.34 Z" fill="#993366" stroke="#333" stroke-width="1" stroke-linejoin="miter" />
<path d="M658.92,402.84 L658.56,405.5 L658.15,408.14 L657.7,410.79 L657.22,413.42 L656.69,416.05 L656.13,418.67 L660.33,419.6 L645.3,432.09 L638.27,414.71 L642.47,415.64 L642.98,413.22 L643.47,410.79 L643.91,408.35 L644.33,405.91 L644.7,403.47 L645.04,401.02 Z" fill="#cc99bb" stroke="#555" stroke-width="1" stroke-linejoin="miter" />
<rect x="645.4" y="378.9" width="15" height="0.7" fill="#666"/>
<rect x="645.4" y="379.6" width="15" height="1.6" fill="#8e8e8e"/>
<rect x="645.4" y="381.5" width="15" height="1.8" fill="#2f97b9"/>
<rect x="645.4" y="383.6" width="15" height="1.8" fill="#555"/>
<rect x="645.4" y="385.4" width="15" height="1.6" fill="#a3abb7"/>
<rect x="645.4" y="387" width="15" height="0.9" fill="#4a4a4a"/>
<rect x="645.4" y="387.9" width="15" height="1.3" fill="#f2f2f2"/>
<rect x="645.4" y="389.2" width="15" height="1.2" fill="#1e1e1e"/>
<rect x="645.4" y="390.4" width="15" height="1.6" fill="#6a6a6a"/>
<polyline points="646,391.8 660,390.6" fill="none" stroke="#eee" stroke-width="0.7" />
<rect x="645.4" y="392" width="15" height="1.4" fill="#e2e2e2"/>
<rect x="645.4" y="393.4" width="15" height="1.5" fill="#6e6e6e"/>
<rect x="645" y="394.9" width="14.8" height="7" fill="#cc99bb"/>
<polyline points="646.5,397 658.5,397.6" fill="none" stroke="#fff" stroke-width="1.4" stroke-dasharray="1.5,1.1"/>
<polyline points="647,400.2 657,400.7" fill="none" stroke="#fff" stroke-width="1.4" stroke-dasharray="1.5,1.1"/>
<polyline points="640,397 646,398.6" fill="none" stroke="#555" stroke-width="1" />
<polyline points="659,399.4 663.4,400.3" fill="none" stroke="#555" stroke-width="1" />
<polyline points="644,401.9 659,402.6" fill="none" stroke="#444" stroke-width="1" />
<path d="M650.52,438.62 L645.48,451.66 L632.62,446.12 L637.28,434.07 Z" fill="#993366"/>
<path d="M650.57,438.47 L650.31,439.23 L650.04,439.98 L654.1,441.41 L642.92,439.12 L632.78,433.91 L636.84,435.33 L637.08,434.63 L637.32,433.93 Z" fill="#993366" stroke="#1a1a1a" stroke-width="0.85" stroke-linejoin="miter" />
<polyline points="649.29,439.11 637.96,435.16" fill="none" stroke="#1a1a1a" stroke-width="0.7" stroke-dasharray="1.5,1"/>
<path d="M649.36,441.88 L649.09,442.63 L648.81,443.38 L652.83,444.89 L641.7,442.37 L631.67,436.97 L635.7,438.47 L635.95,437.78 L636.21,437.08 Z" fill="#993366" stroke="#1a1a1a" stroke-width="0.85" stroke-linejoin="miter" />
<polyline points="648.07,442.49 636.82,438.32" fill="none" stroke="#1a1a1a" stroke-width="0.7" stroke-dasharray="1.5,1"/>
<path d="M648.09,445.26 L647.8,446.01 L647.51,446.76 L651.5,448.34 L640.42,445.61 L630.5,440.01 L634.49,441.59 L634.77,440.9 L635.04,440.21 Z" fill="#993366" stroke="#1a1a1a" stroke-width="0.85" stroke-linejoin="miter" />
<polyline points="646.79,445.85 635.62,441.46" fill="none" stroke="#1a1a1a" stroke-width="0.7" stroke-dasharray="1.5,1"/>
<path d="M646.75,448.62 L646.45,449.36 L646.14,450.11 L650.1,451.77 L639.08,448.82 L629.27,443.02 L633.23,444.69 L633.52,444 L633.8,443.31 Z" fill="#993366" stroke="#1a1a1a" stroke-width="0.85" stroke-linejoin="miter" />
<polyline points="645.44,449.19 634.36,444.58" fill="none" stroke="#1a1a1a" stroke-width="0.7" stroke-dasharray="1.5,1"/>
<path d="M307.22,451.9 L306.96,451.29 L306.71,450.68 L302.75,452.36 L312.66,446.78 L323.55,443.54 L319.6,445.22 L319.83,445.78 L320.07,446.34 Z" fill="#993366" stroke="#1a1a1a" stroke-width="0.8" stroke-linejoin="miter" />
<polyline points="307.83,450.76 318.86,446.05" fill="none" stroke="#1a1a1a" stroke-width="0.6" stroke-dasharray="1.5,1"/>
<path d="M306.12,449.29 L305.87,448.68 L305.62,448.07 L301.64,449.69 L311.63,444.26 L322.58,441.19 L318.59,442.81 L318.82,443.37 L319.06,443.93 Z" fill="#993366" stroke="#1a1a1a" stroke-width="0.8" stroke-linejoin="miter" />
<polyline points="306.74,448.17 317.85,443.62" fill="none" stroke="#1a1a1a" stroke-width="0.6" stroke-dasharray="1.5,1"/>
<text class="f" text-anchor="middle" transform="translate(387.6,230.4) rotate(-28.8)" x="0" y="0" textLength="13.5" lengthAdjust="spacingAndGlyphs" >ori</text>
<text class="fw" text-anchor="middle" transform="translate(631,298) rotate(61)" x="0" y="0" textLength="21" lengthAdjust="spacingAndGlyphs" >lac<tspan class="s">I</tspan></text>
<text class="fw" text-anchor="middle" transform="translate(480.8,558.6) rotate(0)" x="0" y="0" textLength="24.5" lengthAdjust="spacingAndGlyphs" >Cas9</text>
<text class="fw" text-anchor="middle" transform="translate(480.8,505.8) rotate(0)" x="0" y="0" textLength="24.5" lengthAdjust="spacingAndGlyphs" >Cas9</text>
<text class="f" x="461.6" y="224" textLength="16.6" lengthAdjust="spacingAndGlyphs" >rop</text>
<text class="f" text-anchor="middle" transform="translate(448.6,238) rotate(-10.8)" x="0" y="0" textLength="22.4" lengthAdjust="spacingAndGlyphs" >bom</text>
<path id="c1" d="M346.02,296.31 L346.74,295.19 L347.46,294.07 L348.2,292.96 L348.94,291.86 L349.7,290.77 L350.46,289.68 L351.24,288.59 L352.02,287.52 L352.81,286.45 L353.61,285.39 L354.43,284.33 L355.25,283.28 L356.07,282.24 L356.91,281.21 L357.76,280.18 L358.61,279.16 L359.48,278.15 L360.35,277.15 L361.23,276.15 L362.12,275.16 L363.02,274.18 L363.93,273.2 L364.84,272.24 L365.77,271.28 L366.7,270.33 L367.64,269.39 L368.59,268.45 L369.55,267.53 L370.51,266.61 L371.48,265.7 L372.46,264.8 L373.45,263.91 L374.45,263.03" fill="none"/>
<text class="f" textLength="29" lengthAdjust="spacingAndGlyphs"><textPath href="#c1" startOffset="8">AmpR</textPath></text>
<path id="c2" d="M320.71,380.52 L320.7,379.17 L320.7,377.81 L320.72,376.46 L320.74,375.11 L320.78,373.76 L320.83,372.41 L320.89,371.05 L320.97,369.7 L321.05,368.35 L321.15,367 L321.26,365.66 L321.38,364.31 L321.51,362.96 L321.65,361.62 L321.81,360.27 L321.97,358.93 L322.15,357.59 L322.34,356.25 L322.54,354.91 L322.76,353.58 L322.98,352.24 L323.22,350.91 L323.47,349.58 L323.73,348.25 L324,346.93 L324.28,345.61 L324.58,344.29 L324.88,342.97 L325.2,341.65 L325.53,340.34 L325.87,339.03 L326.22,337.73 L326.58,336.42 L326.96,335.12 L327.34,333.83 L327.74,332.53 L328.15,331.24 L328.56,329.96 L328.99,328.68 L329.44,327.4 L329.89,326.12 L330.35,324.85 L330.83,323.58 L331.31,322.32 L331.81,321.06 L332.32,319.81 L332.83,318.56 L333.36,317.32 L333.9,316.07 L334.45,314.84 L335.02,313.61 L335.59,312.38 L336.17,311.16 L336.76,309.95 L337.37,308.74 L337.98,307.53 L338.61,306.33 L339.24,305.14 L339.89,303.95 L340.54,302.77 L341.21,301.59 L341.89,300.42 L342.57,299.25 L343.27,298.09 L343.97,296.94 L344.69,295.79 L345.42,294.65 L346.15,293.52 L346.9,292.39 L347.66,291.27" fill="none"/>
<text class="f" textLength="81" lengthAdjust="spacingAndGlyphs"><textPath href="#c2" startOffset="8">AmpR promoter</textPath></text>
<path id="c3" d="M598.19,283.38 L599.02,284.44 L599.83,285.5 L600.63,286.57 L601.42,287.65 L602.2,288.74 L602.98,289.83 L603.74,290.93 L604.5,292.03 L605.24,293.14 L605.98,294.26 L606.7,295.39 L607.42,296.52 L608.13,297.65 L608.82,298.8 L609.51,299.94 L610.19,301.1 L610.85,302.26 L611.51,303.42 L612.16,304.6 L612.79,305.77 L613.42,306.96 L614.03,308.14 L614.64,309.34 L615.24,310.54 L615.82,311.74 L616.39,312.95 L616.96,314.16 L617.51,315.38 L618.05,316.6 L618.59,317.83 L619.11,319.06 L619.62,320.3 L620.12,321.54 L620.61,322.78 L621.09,324.03 L621.56,325.29 L622.01,326.55 L622.46,327.81 L622.9,329.07 L623.32,330.34 L623.73,331.61 L624.14,332.89 L624.53,334.17 L624.91,335.45 L625.28,336.74 L625.63,338.03 L625.98,339.32 L626.32,340.62 L626.64,341.91 L626.95,343.22 L627.26,344.52 L627.55,345.82 L627.83,347.13 L628.09,348.44 L628.35,349.76 L628.6,351.07 L628.83,352.39 L629.05,353.71 L629.26,355.03 L629.46,356.35 L629.65,357.68 L629.83,359.01" fill="none"/>
<text class="f" textLength="69" lengthAdjust="spacingAndGlyphs"><textPath href="#c3" startOffset="8">lac<tspan class="s">I</tspan> promoter</textPath></text>
<path id="c4" d="M629.28,359.43 L629.44,360.74 L629.59,362.05 L629.72,363.36 L629.85,364.67 L629.97,365.99 L630.07,367.3 L630.16,368.62 L630.24,369.93 L630.32,371.25 L630.37,372.57 L630.42,373.89 L630.46,375.21 L630.48,376.53 L630.5,377.84 L630.5,379.16 L630.49,380.48 L630.47,381.8 L630.44,383.12 L630.4,384.44 L630.34,385.76 L630.28,387.08 L630.2,388.39 L630.11,389.71 L630.01,391.03 L629.9,392.34 L629.78,393.65 L629.65,394.97" fill="none"/>
<text class="f" textLength="20.5" lengthAdjust="spacingAndGlyphs"><textPath href="#c4" startOffset="8">RBS</textPath></text>
<path id="c5" d="M616.44,431.74 L616.89,430.52 L617.33,429.3 L617.76,428.07 L618.19,426.85 L618.6,425.61 L619,424.38 L619.39,423.14 L619.77,421.9 L620.13,420.65 L620.49,419.4 L620.84,418.15 L621.17,416.9 L621.5,415.64 L621.81,414.38 L622.12,413.12 L622.41,411.85 L622.69,410.58 L622.96,409.31 L623.22,408.04 L623.47,406.77 L623.7,405.49 L623.93,404.21 L624.14,402.93 L624.35,401.65 L624.54,400.36 L624.72,399.08 L624.89,397.79 L625.05,396.5 L625.2,395.21 L625.33,393.92 L625.46,392.63 L625.57,391.33 L625.68,390.04 L625.77,388.75 L625.85,387.45 L625.92,386.15 L625.98,384.86 L626.02,383.56 L626.06,382.26 L626.08,380.96 L626.1,379.66 L626.1,378.36 L626.09,377.07 L626.07,375.77 L626.04,374.47 L625.99,373.17 L625.94,371.87 L625.87,370.58 L625.8,369.28 L625.71,367.98 L625.61,366.69 L625.5,365.4 L625.38,364.1 L625.24,362.81 L625.1,361.52 L624.94,360.23 L624.78,358.94 L624.6,357.66 L624.41,356.37 L624.21,355.09 L624,353.81 L623.78,352.53 L623.55,351.25 L623.3,349.98" fill="none"/>
<text class="f" textLength="65" lengthAdjust="spacingAndGlyphs"><textPath href="#c5" startOffset="8">thrombin site</textPath></text>
<path id="c6" d="M626.88,437.99 L627.39,436.69 L627.88,435.38 L628.37,434.07 L628.84,432.76 L629.3,431.44 L629.75,430.12 L630.18,428.79 L630.61,427.46 L631.02,426.13 L631.43,424.79 L631.82,423.45 L632.2,422.11 L632.56,420.76 L632.92,419.41 L633.27,418.06 L633.6,416.7 L633.92,415.34 L634.23,413.98 L634.53,412.62 L634.81,411.25 L635.09,409.88 L635.35,408.51 L635.6,407.13 L635.84,405.76 L636.06,404.38 L636.28,403 L636.48,401.62 L636.67,400.24 L636.85,398.85 L637.02,397.46 L637.17,396.08 L637.32,394.69 L637.45,393.3" fill="none"/>
<text class="f" textLength="29" lengthAdjust="spacingAndGlyphs"><textPath href="#c6" startOffset="8">SUMO</textPath></text>
<polyline points="628.4,390.7 638.4,390.9" fill="none" stroke="#7d7d7d" stroke-width="1" />
<text class="t" x="301.6" y="371.5" textLength="349.4" lengthAdjust="spacingAndGlyphs" >Cas9-T6N (pZZ12, TAT-4MycNLS-Cas9-2SV40NLS-sfGFP)</text>
<text class="n2" x="451.9" y="383.5" textLength="50.1" lengthAdjust="spacingAndGlyphs" >11,171 bp</text>
<text class="pn" x="311.1" y="54" textLength="84.4" lengthAdjust="spacingAndGlyphs" >(10,980 .. 11,002)</text>
<text class="p" x="402.5" y="54" textLength="39.2" lengthAdjust="spacingAndGlyphs" >pGEX 3'</text>
<text class="n" x="260.1" y="72" textLength="39.7" lengthAdjust="spacingAndGlyphs" >(10,880)</text>
<text class="e" x="306.5" y="72" textLength="26" lengthAdjust="spacingAndGlyphs" >PflF<tspan class="s">I</tspan></text>
<text class="e" x="342.7" y="72" textLength="3.5" lengthAdjust="spacingAndGlyphs" >-</text>
<text class="e" x="350.5" y="72" textLength="43.9" lengthAdjust="spacingAndGlyphs" >Tth111<tspan class="s">I</tspan></text>
<text class="pn" x="210.2" y="90" textLength="84.4" lengthAdjust="spacingAndGlyphs" >(10,820 .. 10,839)</text>
<text class="p" x="301.2" y="90" textLength="60.2" lengthAdjust="spacingAndGlyphs" >pRS-marker</text>
<text class="n" x="212.3" y="108" textLength="39.7" lengthAdjust="spacingAndGlyphs" >(10,742)</text>
<text class="e" x="258.3" y="108" textLength="34.1" lengthAdjust="spacingAndGlyphs" >BspQ<tspan class="s">I</tspan></text>
<text class="e" x="303.7" y="108" textLength="3.5" lengthAdjust="spacingAndGlyphs" >-</text>
<text class="e" x="311.1" y="108" textLength="26" lengthAdjust="spacingAndGlyphs" >Sap<tspan class="s">I</tspan></text>
<text class="pn" x="191.5" y="126" textLength="83.7" lengthAdjust="spacingAndGlyphs" >(10,723 .. 10,740)</text>
<text class="p" x="282.6" y="126" textLength="29.9" lengthAdjust="spacingAndGlyphs" >L4440</text>
<text class="pn" x="140.5" y="143.7" textLength="83.7" lengthAdjust="spacingAndGlyphs" >(10,470 .. 10,489)</text>
<text class="p" x="231.6" y="143.7" textLength="61.9" lengthAdjust="spacingAndGlyphs" >pBR322ori-F</text>
<text class="n" x="197.2" y="161.7" textLength="39.3" lengthAdjust="spacingAndGlyphs" >(10,216)</text>
<text class="e" x="243.2" y="161.7" textLength="34.1" lengthAdjust="spacingAndGlyphs" >AlwN<tspan class="s">I</tspan></text>
<text class="n" x="197.9" y="181.5" textLength="30.6" lengthAdjust="spacingAndGlyphs" >(9737)</text>
<text class="e" x="235.1" y="181.5" textLength="27.1" lengthAdjust="spacingAndGlyphs" >Ahd<tspan class="s">I</tspan></text>
<text class="n" x="191.5" y="193.5" textLength="29.9" lengthAdjust="spacingAndGlyphs" >(9671)</text>
<text class="e" x="228.5" y="193.5" textLength="24.9" lengthAdjust="spacingAndGlyphs" >Bsa<tspan class="s">I</tspan></text>
<text class="pn" x="108" y="260" textLength="66.3" lengthAdjust="spacingAndGlyphs" >(9168 .. 9187)</text>
<text class="p" x="181.1" y="260" textLength="34" lengthAdjust="spacingAndGlyphs" >Amp-R</text>
<text class="n" x="141.5" y="277.8" textLength="29.9" lengthAdjust="spacingAndGlyphs" >(8818)</text>
<text class="e" x="178.3" y="277.8" textLength="29" lengthAdjust="spacingAndGlyphs" >Aat<tspan class="s">I</tspan><tspan class="s">I</tspan></text>
<text class="n" x="144.6" y="289.8" textLength="29.7" lengthAdjust="spacingAndGlyphs" >(8816)</text>
<text class="e" x="181.1" y="289.8" textLength="23.8" lengthAdjust="spacingAndGlyphs" >Zra<tspan class="s">I</tspan></text>
<text class="pn" x="75.1" y="308" textLength="66.3" lengthAdjust="spacingAndGlyphs" >(8759 .. 8777)</text>
<text class="p" x="148.6" y="308" textLength="50.5" lengthAdjust="spacingAndGlyphs" >pBRforEco</text>
<text class="n" x="82.3" y="343.6" textLength="30.3" lengthAdjust="spacingAndGlyphs" >(8715)</text>
<text class="e" x="119.4" y="343.6" textLength="33.5" lengthAdjust="spacingAndGlyphs" >BspD<tspan class="s">I</tspan></text>
<text class="e" x="164.3" y="343.6" textLength="3.4" lengthAdjust="spacingAndGlyphs" >-</text>
<text class="e" x="171.4" y="343.6" textLength="22" lengthAdjust="spacingAndGlyphs" >Cla<tspan class="s">I</tspan></text>
<text class="pn" x="75.2" y="379.6" textLength="66.2" lengthAdjust="spacingAndGlyphs" >(8468 .. 8486)</text>
<text class="p" x="148.4" y="379.6" textLength="40.1" lengthAdjust="spacingAndGlyphs" >T7 Term</text>
<text class="n" x="14" y="397.7" textLength="30.7" lengthAdjust="spacingAndGlyphs" >(8431)</text>
<text class="e" x="51.7" y="397.7" textLength="39.7" lengthAdjust="spacingAndGlyphs" >PaeR7<tspan class="s">I</tspan></text>
<text class="e" x="104.1" y="397.7" textLength="3.5" lengthAdjust="spacingAndGlyphs" >-</text>
<text class="e" x="111.5" y="397.7" textLength="32.7" lengthAdjust="spacingAndGlyphs" >PspX<tspan class="s">I</tspan></text>
<text class="e" x="154.7" y="397.7" textLength="3.5" lengthAdjust="spacingAndGlyphs" >-</text>
<text class="e" x="162.1" y="397.7" textLength="26.7" lengthAdjust="spacingAndGlyphs" >Xho<tspan class="s">I</tspan></text>
<text class="n" x="129.4" y="409.8" textLength="29.9" lengthAdjust="spacingAndGlyphs" >(8423)</text>
<text class="e" x="166.7" y="409.8" textLength="24.2" lengthAdjust="spacingAndGlyphs" >Not<tspan class="s">I</tspan></text>
<text class="n" x="119.5" y="421.8" textLength="29.9" lengthAdjust="spacingAndGlyphs" >(8358)</text>
<text class="e" x="156.5" y="421.8" textLength="35.5" lengthAdjust="spacingAndGlyphs" >Dra<tspan class="s">I</tspan><tspan class="s">I</tspan><tspan class="s">I</tspan></text>
<text class="n" x="127.3" y="445.5" textLength="29.9" lengthAdjust="spacingAndGlyphs" >(7980)</text>
<text class="e" x="164.6" y="445.5" textLength="30.9" lengthAdjust="spacingAndGlyphs" >BsrG<tspan class="s">I</tspan></text>
<text class="n" x="349.5" y="684.7" textLength="30.1" lengthAdjust="spacingAndGlyphs" >(5833)</text>
<text class="e" x="386.7" y="684.7" textLength="26.1" lengthAdjust="spacingAndGlyphs" >Pml<tspan class="s">I</tspan></text>
<text class="n" x="445.2" y="702.8" textLength="30.5" lengthAdjust="spacingAndGlyphs" >(5318)</text>
<text class="e" x="482.4" y="702.8" textLength="26.5" lengthAdjust="spacingAndGlyphs" >Kpn<tspan class="s">I</tspan></text>
<text class="e" x="547.1" y="69.8" textLength="31.7" lengthAdjust="spacingAndGlyphs" >FspA<tspan class="s">I</tspan></text>
<text class="n" x="592.6" y="69.8" textLength="24.8" lengthAdjust="spacingAndGlyphs" >(474)</text>
<text class="e" x="570.2" y="81.8" textLength="35.6" lengthAdjust="spacingAndGlyphs" >Msc<tspan class="s">I</tspan> *</text>
<text class="n" x="613.7" y="81.8" textLength="24.4" lengthAdjust="spacingAndGlyphs" >(484)</text>
<text class="e" x="705.4" y="207.9" textLength="37.9" lengthAdjust="spacingAndGlyphs" >BssH<tspan class="s">I</tspan><tspan class="s">I</tspan></text>
<text class="n" x="756.8" y="207.9" textLength="29.7" lengthAdjust="spacingAndGlyphs" >(1644)</text>
<text class="e" x="718.3" y="234" textLength="42.5" lengthAdjust="spacingAndGlyphs" >PspOM<tspan class="s">I</tspan></text>
<text class="n" x="774.6" y="234" textLength="29.7" lengthAdjust="spacingAndGlyphs" >(1848)</text>
<text class="e" x="724.5" y="245.8" textLength="25.4" lengthAdjust="spacingAndGlyphs" >Apa<tspan class="s">I</tspan></text>
<text class="n" x="763.4" y="245.8" textLength="30" lengthAdjust="spacingAndGlyphs" >(1852)</text>
<text class="p" x="747.3" y="305.7" textLength="31.6" lengthAdjust="spacingAndGlyphs" >LacI-R</text>
<text class="pn" x="792.3" y="305.7" textLength="66.9" lengthAdjust="spacingAndGlyphs" >(2372 .. 2391)</text>
<text class="e" x="751.5" y="323.9" textLength="32.3" lengthAdjust="spacingAndGlyphs" >EcoN<tspan class="s">I</tspan></text>
<text class="n" x="796.2" y="323.9" textLength="30.5" lengthAdjust="spacingAndGlyphs" >(2523)</text>
<text class="p" x="754.5" y="342" textLength="57.9" lengthAdjust="spacingAndGlyphs" >pBRrevBam</text>
<text class="pn" x="824.6" y="342" textLength="66.5" lengthAdjust="spacingAndGlyphs" >(2694 .. 2713)</text>
<text class="p" x="755.4" y="354" textLength="11.5" lengthAdjust="spacingAndGlyphs" >T7</text>
<text class="pn" x="779.6" y="354" textLength="66.5" lengthAdjust="spacingAndGlyphs" >(2797 .. 2816)</text>
<text class="e" x="756.2" y="405.7" textLength="26.1" lengthAdjust="spacingAndGlyphs" >Xba<tspan class="s">I</tspan></text>
<text class="n" x="795.5" y="405.7" textLength="30.2" lengthAdjust="spacingAndGlyphs" >(2843)</text>
<text class="e" x="748.4" y="458.1" textLength="25.4" lengthAdjust="spacingAndGlyphs" >Afl<tspan class="s">I</tspan><tspan class="s">I</tspan></text>
<text class="n" x="785.5" y="458.1" textLength="30.3" lengthAdjust="spacingAndGlyphs" >(3222)</text>
<text class="e" x="714.5" y="541.9" textLength="37.4" lengthAdjust="spacingAndGlyphs" >BmgB<tspan class="s">I</tspan></text>
<text class="n" x="766.5" y="541.9" textLength="30" lengthAdjust="spacingAndGlyphs" >(3760)</text>
<text class="e" x="695.2" y="575.9" textLength="28.3" lengthAdjust="spacingAndGlyphs" >Swa<tspan class="s">I</tspan></text>
<text class="n" x="736.2" y="575.9" textLength="30.3" lengthAdjust="spacingAndGlyphs" >(4061)</text>
<text class="e" x="612.9" y="661.3" textLength="23" lengthAdjust="spacingAndGlyphs" >Ale<tspan class="s">I</tspan></text>
<text class="n" x="647.4" y="661.3" textLength="30" lengthAdjust="spacingAndGlyphs" >(4787)</text>
<text class="e" x="597.5" y="673.2" textLength="30.1" lengthAdjust="spacingAndGlyphs" >BstB<tspan class="s">I</tspan></text>
<text class="n" x="641.4" y="673.2" textLength="30.1" lengthAdjust="spacingAndGlyphs" >(4878)</text>
<text class="e" x="545.3" y="702.8" textLength="38.4" lengthAdjust="spacingAndGlyphs" >Acc65<tspan class="s">I</tspan></text>
<text class="n" x="596.3" y="702.8" textLength="30.1" lengthAdjust="spacingAndGlyphs" >(5314)</text>
<rect x="134.3" y="316.6" width="69.1" height="12" rx="3.2" fill="#fff" stroke="#888" stroke-width="1"/>
<text class="f" x="137.7" y="325.7" textLength="62.9" lengthAdjust="spacingAndGlyphs" >tet promoter</text>
<rect x="123.1" y="352.7" width="75.9" height="11.6" rx="3.2" fill="#fff" stroke="#888" stroke-width="1"/>
<text class="f" x="126.6" y="361.5" textLength="67.8" lengthAdjust="spacingAndGlyphs" >T7 terminator</text>
<rect x="155.2" y="474.2" width="60.5" height="12.4" rx="3.2" fill="#ddbbcc" stroke="#993366" stroke-width="1"/>
<text class="f" x="158.6" y="483.7" textLength="48.6" lengthAdjust="spacingAndGlyphs" >SV40 NLS</text>
<rect x="161.3" y="490.2" width="60.4" height="12.3" rx="3.2" fill="#ddbbcc" stroke="#993366" stroke-width="1"/>
<text class="f" x="164.7" y="499.6" textLength="48.6" lengthAdjust="spacingAndGlyphs" >SV40 NLS</text>
<rect x="754.2" y="362.7" width="69.7" height="11.8" rx="3.2" fill="#fff" stroke="#888" stroke-width="1"/>
<text class="f" x="757.7" y="371.6" textLength="61.8" lengthAdjust="spacingAndGlyphs" >T7 promoter</text>
<rect x="754.2" y="378.4" width="65.8" height="12.5" rx="3.2" fill="#a9d3de" stroke="#2e8aa8" stroke-width="1"/>
<text class="f" x="757.7" y="387.8" textLength="59.3" lengthAdjust="spacingAndGlyphs" >lac operator</text>
<rect x="751.2" y="414.2" width="34.6" height="12.3" rx="3.2" fill="#ddbbcc" stroke="#c69ab4" stroke-width="1"/>
<text class="f" x="754.2" y="424" textLength="27.4" lengthAdjust="spacingAndGlyphs" >6xHis</text>
<rect x="749.3" y="430.4" width="81.5" height="12.2" rx="3.2" fill="#ddbbcc" stroke="#c69ab4" stroke-width="1"/>
<text class="f" x="752.3" y="440" textLength="74.6" lengthAdjust="spacingAndGlyphs" >Twin-Strep-tag</text>
<rect x="739.2" y="466.4" width="61.6" height="12.2" rx="3.2" fill="#ddbbcc" stroke="#993366" stroke-width="1"/>
<text class="f" x="742.2" y="475.9" textLength="53.4" lengthAdjust="spacingAndGlyphs" >c-myc NLS</text>
<rect x="734.1" y="482.4" width="61.6" height="12.2" rx="3.2" fill="#ddbbcc" stroke="#993366" stroke-width="1"/>
<text class="f" x="737.1" y="491.9" textLength="53.4" lengthAdjust="spacingAndGlyphs" >c-myc NLS</text>
<rect x="728.2" y="498.4" width="61.6" height="12.2" rx="3.2" fill="#ddbbcc" stroke="#993366" stroke-width="1"/>
<text class="f" x="731.2" y="507.9" textLength="53.4" lengthAdjust="spacingAndGlyphs" >c-myc NLS</text>
<rect x="721" y="514.4" width="61.6" height="12.2" rx="3.2" fill="#ddbbcc" stroke="#993366" stroke-width="1"/>
<text class="f" x="724" y="523.9" textLength="53.4" lengthAdjust="spacingAndGlyphs" >c-myc NLS</text>
<text x="812.7" y="10.3" style="font-size:7.6px;fill:#c2c2c2" textLength="37" lengthAdjust="spacingAndGlyphs">Created by</text>
<rect x="852.2" y="1.2" width="5.6" height="1.7" fill="#d9f2fe"/><path d="M852.9,2.7 L856.7,2.7 L856.7,7.6 L855.5,11.9 Q854.6,13.1 853.9,11.9 L852.9,8.2 Z" fill="#8fd8fb"/><path d="M856.7,2.1 Q859.7,2.5 859.5,4.8 Q859.2,6.7 856.7,6.7 Z" fill="#a9e2fc"/>
<text x="861.9" y="10.6" style="font-size:9.6px;fill:#8f979f;stroke:#8f979f;stroke-width:0.25" textLength="44.3" lengthAdjust="spacingAndGlyphs">SnapGene</text>
</svg>
</body></html>
